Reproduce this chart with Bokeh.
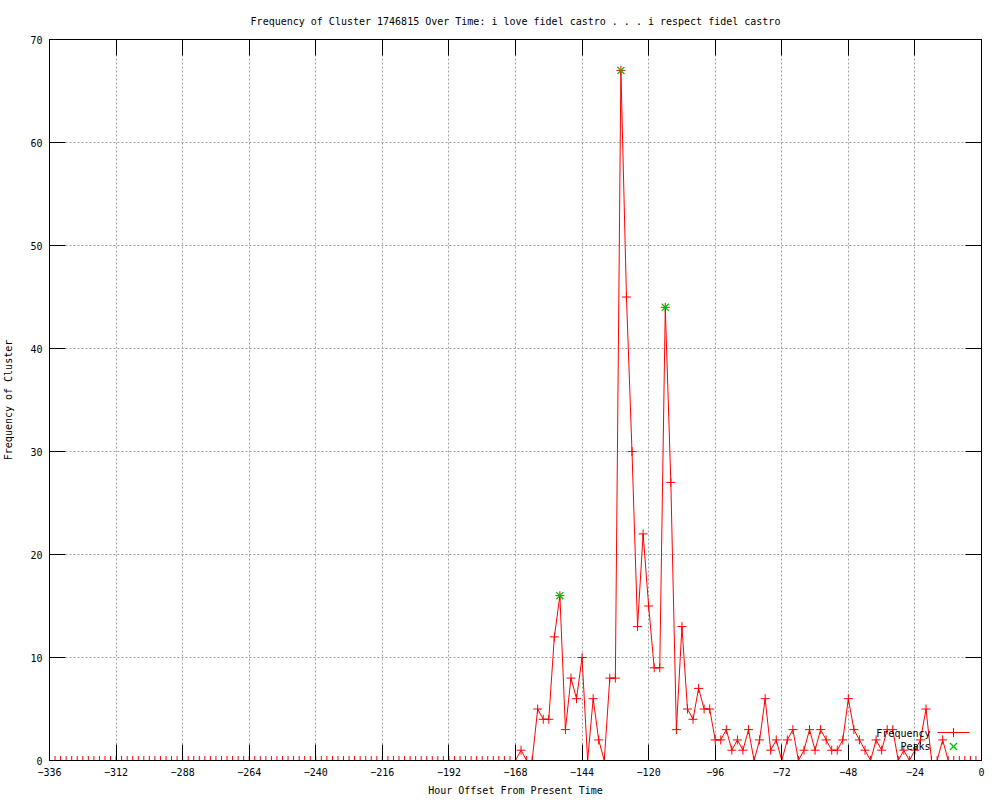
from bokeh.plotting import figure
from bokeh.models import Range1d, FixedTicker, LinearAxis, Label
from bokeh.embed import file_html
from bokeh.resources import INLINE

FONT = "DejaVu Sans Mono"
FS = "10px"

TITLE = "Frequency of Cluster 1746815 Over Time: i love fidel castro . . . i respect fidel castro"
X_LABEL = "Hour Offset From Present Time"
Y_LABEL = "Frequency of Cluster"

X_TICKS = [-336, -312, -288, -264, -240, -216, -192, -168, -144, -120, -96, -72, -48, -24, 0]
Y_TICKS = [0, 10, 20, 30, 40, 50, 60, 70]

# hourly offsets (every two hours) and cluster frequency
hours = [
    -336, -334, -332, -330, -328, -326, -324, -322, -320, -318, -316, -314, -312,
    -310, -308, -306, -304, -302, -300, -298, -296, -294, -292, -290, -288, -286,
    -284, -282, -280, -278, -276, -274, -272, -270, -268, -266, -264, -262, -260,
    -258, -256, -254, -252, -250, -248, -246, -244, -242, -240, -238, -236, -234,
    -232, -230, -228, -226, -224, -222, -220, -218, -216, -214, -212, -210, -208,
    -206, -204, -202, -200, -198, -196, -194, -192, -190, -188, -186, -184, -182,
    -180, -178, -176, -174, -172, -170, -168, -166, -164, -162, -160, -158, -156,
    -154, -152, -150, -148, -146, -144, -142, -140, -138, -136, -134, -132, -130,
    -128, -126, -124, -122, -120, -118, -116, -114, -112, -110, -108, -106, -104,
    -102, -100, -98, -96, -94, -92, -90, -88, -86, -84, -82, -80, -78,
    -76, -74, -72, -70, -68, -66, -64, -62, -60, -58, -56, -54, -52,
    -50, -48, -46, -44, -42, -40, -38, -36, -34, -32, -30, -28, -26,
    -24, -22, -20, -18, -16, -14, -12, -10, -8, -6, -4, -2, 0,
]
frequency = [
    0, 0, 0, 0, 0, 0, 0, 0, 0, 0, 0, 0, 0,
    0, 0, 0, 0, 0, 0, 0, 0, 0, 0, 0, 0, 0,
    0, 0, 0, 0, 0, 0, 0, 0, 0, 0, 0, 0, 0,
    0, 0, 0, 0, 0, 0, 0, 0, 0, 0, 0, 0, 0,
    0, 0, 0, 0, 0, 0, 0, 0, 0, 0, 0, 0, 0,
    0, 0, 0, 0, 0, 0, 0, 0, 0, 0, 0, 0, 0,
    0, 0, 0, 0, 0, 0, 0, 1, 0, 0, 5, 4, 4,
    12, 16, 3, 8, 6, 10, 0, 6, 2, 0, 8, 8, 67,
    45, 30, 13, 22, 15, 9, 9, 44, 27, 3, 13, 5, 4,
    7, 5, 5, 2, 2, 3, 1, 2, 1, 3, 0, 2, 6,
    1, 2, 0, 2, 3, 0, 1, 3, 1, 3, 2, 1, 1,
    2, 6, 3, 2, 1, 0, 2, 1, 3, 3, 0, 1, 0,
    1, 2, 5, 0, 0, 2, 0, 0, 0, 0, 0, 0, 0,
]
peak_hours = [-152, -130, -114]
peak_values = [16, 67, 44]

X0, X1 = -336, 0
Y0, Y1 = 0, 70

p = figure(
    width=1000, height=800,
    output_backend="svg", toolbar_location=None,
    x_range=Range1d(X0, X1), y_range=Range1d(Y0, Y1),
    min_border_left=49, min_border_right=19, min_border_top=38, min_border_bottom=40,
    title=TITLE,
)
p.background_fill_color = "white"
p.border_fill_color = "white"
p.outline_line_color = "black"
p.outline_line_width = 1

p.title.align = "center"
p.title.text_font = FONT
p.title.text_font_size = FS
p.title.text_font_style = "normal"
p.title.text_color = "black"
p.title.standoff = 26

xt = FixedTicker(ticks=X_TICKS, minor_ticks=[])
yt = FixedTicker(ticks=Y_TICKS, minor_ticks=[])

for ax, t in ((p.xaxis[0], xt), (p.yaxis[0], yt)):
    ax.ticker = t
    ax.major_tick_in = 16
    ax.major_tick_out = 0
    ax.minor_tick_in = 0
    ax.minor_tick_out = 0
    ax.major_tick_line_color = "black"
    ax.axis_line_color = "black"
    ax.major_label_text_font = FONT
    ax.major_label_text_font_size = FS
    ax.major_label_text_color = "black"
    ax.axis_label_text_font = FONT
    ax.axis_label_text_font_size = FS
    ax.axis_label_text_font_style = "normal"
    ax.axis_label_text_color = "black"

p.xaxis[0].axis_label = X_LABEL
p.xaxis[0].major_label_standoff = 7
p.xaxis[0].axis_label_standoff = 6
p.yaxis[0].axis_label = Y_LABEL
p.yaxis[0].major_label_standoff = 7
p.yaxis[0].axis_label_standoff = 13

for loc, t, ticks in (("above", xt, X_TICKS), ("right", yt, Y_TICKS)):
    ax = LinearAxis(ticker=t)
    ax.major_tick_in = 16
    ax.major_tick_out = 0
    ax.minor_tick_in = 0
    ax.minor_tick_out = 0
    ax.major_tick_line_color = "black"
    ax.axis_line_color = "black"
    ax.major_label_overrides = {tk: "" for tk in ticks}
    ax.major_label_standoff = 0
    p.add_layout(ax, loc)

p.xgrid.ticker = xt
p.ygrid.ticker = yt
for g in (p.xgrid[0], p.ygrid[0]):
    g.grid_line_color = "#a0a0a0"
    g.grid_line_dash = "2 2"
    g.grid_line_width = 1

p.line(hours, frequency, line_color="#ff0000", line_width=1)
p.scatter(hours, frequency, marker="cross", size=9, line_color="#ff0000", line_width=1)
p.scatter(peak_hours, peak_values, marker="x", size=10, line_color="#00c000", line_width=1.3)

# key (gnuplot style: text left, sample right), positioned in screen pixels
FL, FR, FT, FB = 49, 981, 38, 760


def dx(px):
    return X0 + (px - FL) * (X1 - X0) / (FR - FL)


def dy(py):
    return Y0 + (FB - py) * (Y1 - Y0) / (FB - FT)


key_rows = [("Frequency", 733), ("Peaks", 746)]
for txt, py in key_rows:
    p.add_layout(Label(x=dx(930), y=dy(py), text=txt, text_align="right",
                       text_baseline="middle", text_font=FONT, text_font_size=FS,
                       text_color="black"))
p.line([dx(937), dx(969)], [dy(732), dy(732)], line_color="#ff0000", line_width=1)
p.scatter([dx(953)], [dy(732)], marker="cross", size=9, line_color="#ff0000", line_width=1)
p.scatter([dx(953)], [dy(746)], marker="x", size=10, line_color="#00c000", line_width=1.3)

open("out.html", "w").write(file_html(p, INLINE))
